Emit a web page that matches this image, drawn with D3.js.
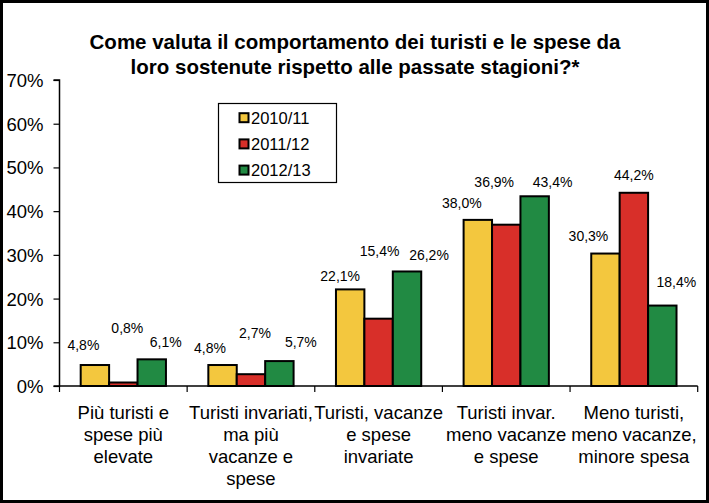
<!DOCTYPE html>
<html>
<head>
<meta charset="utf-8">
<script src="https://cdn.jsdelivr.net/npm/d3@7"></script>
<style>
  html, body { margin: 0; padding: 0; background: #fff; }
  svg { display: block; font-family: "Liberation Sans", Arial, Helvetica, sans-serif; }
</style>
</head>
<body>
<svg id="chart" width="709" height="503"></svg>
<script>
// ---- data ----
const title = ["Come valuta il comportamento dei turisti e le spese da",
               "loro sostenute rispetto alle passate stagioni?*"];
const categories = [
  ["Più turisti e", "spese più", "elevate"],
  ["Turisti invariati,", "ma più", "vacanze e", "spese"],
  ["Turisti, vacanze", "e spese", "invariate"],
  ["Turisti invar.", "meno vacanze", "e spese"],
  ["Meno turisti,", "meno vacanze,", "minore spesa"]
];
const seriesNames = ["2010/11", "2011/12", "2012/13"];
const s2010 = [4.8, 4.8, 22.1, 38.0, 30.3];
const s2011 = [0.8, 2.7, 15.4, 36.9, 44.2];
const s2012 = [6.1, 5.7, 26.2, 43.4, 18.4];
const yTicks = [0, 10, 20, 30, 40, 50, 60, 70];

// ---- layout (label nudges, not data) ----
const labelDx = [[-11.5, 4, 14], [-12.5, 4, 21.5], [-10, 1, 22], [-16, -12, 18], [-17, 0, 14]];
const labelGap = [[20, 55, 17.6], [17, 41, 19], [13.4, 68, 16.7], [16.7, 43, 14.6], [17.6, 17.8, 24]];
const colors = ["#F3C73E", "#D82F29", "#218A43"];

const series = [s2010, s2011, s2012];
const svg = d3.select("#chart");

// frame
svg.append("rect").attr("x", 0).attr("y", 0).attr("width", 709).attr("height", 503).attr("fill", "#000");
svg.append("rect").attr("x", 3).attr("y", 3).attr("width", 703).attr("height", 497).attr("fill", "#fff");

const pLeft = 59.5, pRight = 697.7, pTop = 80, pBottom = 386;
const x0 = d3.scaleBand().domain(d3.range(categories.length)).range([pLeft, pRight]).padding(0);
const bw = x0.bandwidth();
const x1 = d3.scaleBand().domain(d3.range(series.length)).range([bw * 0.166, bw * 0.834]).padding(0);
const y = d3.scaleLinear().domain([0, 70]).range([pBottom, pTop]);

// title
svg.append("text").attr("x", 355).attr("y", 49).attr("text-anchor", "middle")
  .attr("font-size", "20.5px").attr("font-weight", "bold").text(title[0]);
svg.append("text").attr("x", 355).attr("y", 74).attr("text-anchor", "middle")
  .attr("font-size", "20.5px").attr("font-weight", "bold").text(title[1]);

// y axis
const yAxis = d3.axisLeft(y).tickValues(yTicks).tickFormat(d => d + "%").tickSize(6).tickPadding(10);
const gy = svg.append("g").attr("transform", `translate(${pLeft},0)`).call(yAxis);
gy.select(".domain").attr("stroke", "#000").attr("stroke-width", 1.5).attr("d", `M-6,${pTop}H0V${pBottom}H-6`);
gy.selectAll(".tick line").attr("stroke", "#000").attr("stroke-width", 1.2);
gy.selectAll(".tick text").attr("font-size", "18.5px").attr("fill", "#000")
  .attr("font-family", "Liberation Sans, Arial, sans-serif").attr("dy", "0.35em");

// x axis line and ticks between categories
const gx = svg.append("g");
gx.append("line").attr("x1", pLeft).attr("x2", pRight).attr("y1", pBottom).attr("y2", pBottom)
  .attr("stroke", "#000").attr("stroke-width", 1.5);
const bounds = d3.range(categories.length + 1).map(i => i < categories.length ? x0(i) : x0(i - 1) + bw);
gx.selectAll("line.tk").data(bounds).enter().append("line").attr("class", "tk")
  .attr("x1", d => d).attr("x2", d => d).attr("y1", pBottom).attr("y2", pBottom + 6)
  .attr("stroke", "#000").attr("stroke-width", 1.2);

// category labels
categories.forEach((lines, i) => {
  const t = svg.append("text").attr("text-anchor", "middle").attr("font-size", "18.5px").attr("fill", "#000");
  lines.forEach((ln, k) => {
    t.append("tspan").attr("x", x0(i) + bw / 2).attr("y", 419 + k * 22).text(ln);
  });
});

// bars
const fmt = v => v.toFixed(1).replace(".", ",") + "%";
categories.forEach((c, i) => {
  const g = svg.append("g").attr("transform", `translate(${x0(i)},0)`);
  series.forEach((s, j) => {
    g.append("rect")
      .attr("x", x1(j)).attr("y", y(s[i]))
      .attr("width", x1.bandwidth()).attr("height", pBottom - y(s[i]))
      .attr("fill", colors[j]).attr("stroke", "#000").attr("stroke-width", 2);
    g.append("text")
      .attr("x", x1(j) + x1.bandwidth() / 2 + labelDx[i][j])
      .attr("y", y(s[i]) - labelGap[i][j] + 5)
      .attr("text-anchor", "middle").attr("font-size", "14px").attr("fill", "#000")
      .text(fmt(s[i]));
  });
});

// legend
const lg = svg.append("g");
lg.append("rect").attr("x", 218.5).attr("y", 103.5).attr("width", 118).attr("height", 79)
  .attr("fill", "#fff").attr("stroke", "#000").attr("stroke-width", 1.2);
seriesNames.forEach((n, j) => {
  const cy = 117.7 + j * 26.2;
  lg.append("rect").attr("x", 239.5).attr("y", cy - 4.5).attr("width", 9).attr("height", 9)
    .attr("fill", colors[j]).attr("stroke", "#000").attr("stroke-width", 2);
  lg.append("text").attr("x", 251).attr("y", cy + 6).attr("font-size", "16.5px").attr("fill", "#000").text(n);
});
</script>
</body>
</html>
